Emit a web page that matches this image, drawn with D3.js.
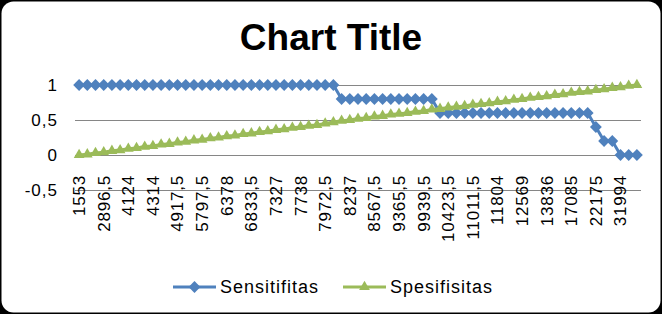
<!DOCTYPE html>
<html>
<head>
<meta charset="utf-8">
<script src="https://cdn.jsdelivr.net/npm/d3@7"></script>
<style>
  html, body { margin: 0; padding: 0; background: #000; }
  svg { display: block; }
  text { font-family: "Liberation Sans", Arial, sans-serif; fill: #000; }
</style>
</head>
<body>
<svg id="chart"></svg>
<script>
// categories (cut-off values); only every third one is labelled on the axis
const categories = [
  "1553", "2011", "2480,5", "2896,5", "3350", "3802", "4124", "4190,5", "4262", "4314",
  "4455", "4702,5", "4917,5", "5190", "5512,5", "5797,5", "5990", "6201", "6378", "6510,5",
  "6688", "6833,5", "6990", "7166,5", "7327", "7460", "7612", "7738", "7820,5", "7901",
  "7972,5", "8055", "8150,5", "8237", "8340", "8451,5", "8567,5", "8810", "9102", "9365,5",
  "9560", "9771", "9939,5", "10088", "10250,5", "10423,5", "10610", "10815", "11011,5", "11290",
  "11552", "11804", "12040,5", "12301", "12569", "12977", "13400,5", "13836", "14870", "15988",
  "17085", "18620", "20311,5", "22175", "24860", "28012", "31994", "35210", "39877,5"
];

const sensitifitas = [
  1, 1, 1, 1, 1, 1, 1, 1, 1, 1,
  1, 1, 1, 1, 1, 1, 1, 1, 1, 1,
  1, 1, 1, 1, 1, 1, 1, 1, 1, 1,
  1, 1, 0.8, 0.8, 0.8, 0.8, 0.8, 0.8, 0.8, 0.8,
  0.8, 0.8, 0.8, 0.8, 0.6, 0.6, 0.6, 0.6, 0.6, 0.6,
  0.6, 0.6, 0.6, 0.6, 0.6, 0.6, 0.6, 0.6, 0.6, 0.6,
  0.6, 0.6, 0.6, 0.4, 0.2, 0.2, 0, 0, 0
];

const spesifisitas = [
  0, 0.01, 0.03, 0.04, 0.06, 0.07, 0.09, 0.1, 0.12, 0.13,
  0.15, 0.16, 0.18, 0.19, 0.21, 0.22, 0.24, 0.25, 0.27, 0.28,
  0.3, 0.31, 0.33, 0.34, 0.36, 0.37, 0.39, 0.4, 0.42, 0.43,
  0.45, 0.47, 0.49, 0.5, 0.52, 0.53, 0.55, 0.56, 0.58, 0.59,
  0.6, 0.62, 0.63, 0.65, 0.66, 0.68, 0.69, 0.7, 0.72, 0.73,
  0.74, 0.76, 0.77, 0.79, 0.8, 0.82, 0.83, 0.84, 0.86, 0.87,
  0.89, 0.9, 0.91, 0.93, 0.94, 0.96, 0.97, 0.99, 1
];

const yTicks = [-0.5, 0, 0.5, 1];
const seriesNames = ["Sensitifitas", "Spesifisitas"];
const colors = ["#4F81BD", "#9BBB59"];

const width = 662, height = 314;
const svg = d3.select("#chart").attr("width", width).attr("height", height);

// white rounded chart area on black
svg.append("rect")
  .attr("x", 1.5).attr("y", 1.5)
  .attr("width", width - 3).attr("height", height - 3)
  .attr("rx", 12).attr("ry", 12)
  .attr("fill", "#fff");

svg.append("text")
  .attr("x", 331).attr("y", 50)
  .attr("text-anchor", "middle")
  .style("font-size", "37px")
  .style("font-weight", "bold")
  .text("Chart Title");

// scales
const x = d3.scaleBand().domain(categories).range([75, 641]);
const cx = d => x(d) + x.bandwidth() / 2;
const y = d3.scaleLinear().domain([-0.5, 1]).range([190, 85]);

// gridlines
svg.append("g")
  .selectAll("line")
  .data(yTicks)
  .enter()
  .append("line")
  .attr("x1", 75).attr("x2", 641)
  .attr("y1", d => Math.round(y(d)) + 0.5)
  .attr("y2", d => Math.round(y(d)) + 0.5)
  .attr("stroke", "#868686")
  .attr("stroke-width", 1);

// y axis labels
const yFmt = d => String(d).replace(".", ",");
svg.append("g")
  .selectAll("text")
  .data(yTicks)
  .enter()
  .append("text")
  .attr("x", 58)
  .attr("y", d => y(d) + 6)
  .attr("text-anchor", "end")
  .style("font-size", "17px")
  .style("letter-spacing", "1px")
  .text(yFmt);

// x axis labels, rotated, every third category
const xAxis = d3.axisBottom(x)
  .tickValues(categories.filter((d, i) => i % 3 === 0))
  .tickSize(0)
  .tickPadding(0);

const xg = svg.append("g")
  .attr("transform", `translate(0, ${y(0) + 20})`)
  .call(xAxis);
xg.select(".domain").remove();
xg.selectAll("text")
  .attr("transform", "rotate(-90)")
  .attr("x", 0).attr("y", 0)
  .attr("dx", 0).attr("dy", "0.35em")
  .attr("text-anchor", "end")
  .style("font-size", "17px")
  .style("letter-spacing", "0.8px")
  .style("font-family", "'Liberation Sans', Arial, sans-serif")
  .attr("fill", "#000");

// series
const series = [sensitifitas, spesifisitas];
const line = d3.line()
  .x((d, i) => cx(categories[i]))
  .y(d => y(d));

const diamond = d3.symbol().type(d3.symbolSquare).size(70);
const triangle = d3.symbol().type(d3.symbolTriangle).size(50);

series.forEach((vals, s) => {
  svg.append("path")
    .datum(vals)
    .attr("d", line)
    .attr("fill", "none")
    .attr("stroke", colors[s])
    .attr("stroke-width", 3)
    .attr("stroke-linejoin", "round");
});

svg.append("g")
  .selectAll("path")
  .data(sensitifitas)
  .enter()
  .append("path")
  .attr("d", diamond)
  .attr("transform", (d, i) => `translate(${cx(categories[i])}, ${y(d)}) rotate(45)`)
  .attr("fill", colors[0]);

svg.append("g")
  .selectAll("path")
  .data(spesifisitas)
  .enter()
  .append("path")
  .attr("d", triangle)
  .attr("transform", (d, i) => `translate(${cx(categories[i])}, ${y(d)})`)
  .attr("fill", colors[1]);

// legend
const legendX = [173, 343];
const legend = svg.append("g")
  .selectAll("g")
  .data(seriesNames)
  .enter()
  .append("g")
  .attr("transform", (d, i) => `translate(${legendX[i]}, 287)`);

legend.append("line")
  .attr("x1", 0).attr("x2", 43)
  .attr("stroke", (d, i) => colors[i])
  .attr("stroke-width", 3);

legend.append("path")
  .attr("d", (d, i) => i === 0 ? diamond() : triangle())
  .attr("transform", (d, i) => i === 0 ? "translate(21.5,0) rotate(45)" : "translate(21.5,0)")
  .attr("fill", (d, i) => colors[i]);

legend.append("text")
  .attr("x", 47).attr("y", 6)
  .style("font-size", "18px")
  .style("letter-spacing", "1px")
  .text(d => d);
</script>
</body>
</html>
